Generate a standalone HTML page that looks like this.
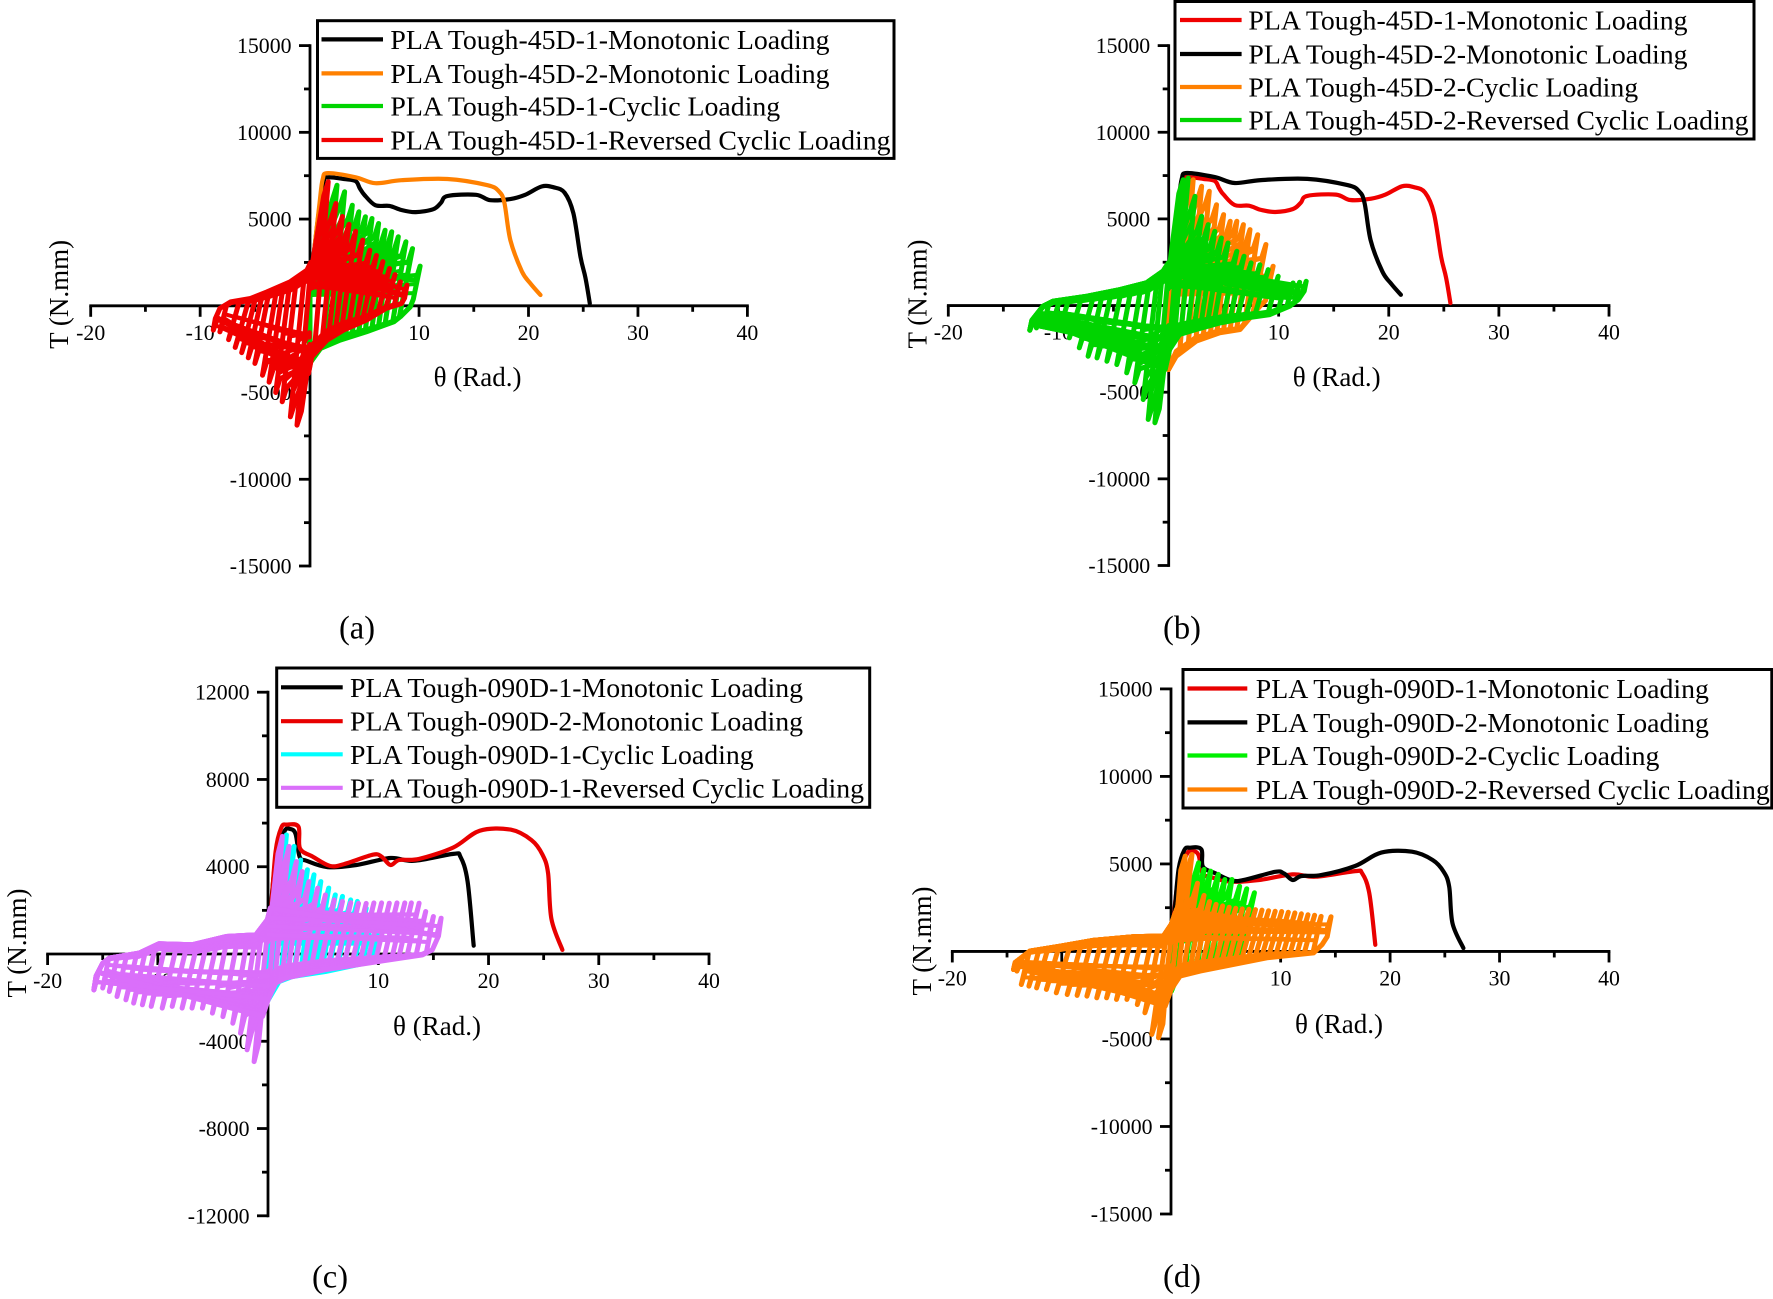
<!DOCTYPE html>
<html lang="en">
<head>
<meta charset="utf-8">
<title>PLA Tough torque-rotation curves</title>
<style>
html,body{margin:0;padding:0;background:#fff;}
body{width:1773px;height:1299px;overflow:hidden;}
svg{display:block;font-family:"Liberation Serif",serif;}
</style>
</head>
<body>
<svg id="figure" xmlns="http://www.w3.org/2000/svg" width="1773" height="1299" viewBox="0 0 1773 1299"></svg>
<script>
/* ---------- tick values ---------- */
const xTickLabels = [-20, -10, 10, 20, 30, 40];
const xMinorTicks = [-15, -5, 5, 15, 25, 35];
const yTickLabels15k = [15000, 10000, 5000, -5000, -10000, -15000];
const yMinorTicks15k = [12500, 7500, 2500, -2500, -7500, -12500];
const yTickLabels12k = [12000, 8000, 4000, -4000, -8000, -12000];
const yMinorTicks12k = [10000, 6000, 2000, -2000, -6000, -10000];

/* ---------- monotonic curves ---------- */
const mono45D1Theta = [0.35,0.9,1.3,1.68,3.15,4.2,4.6,5,6,7.3,8.4,9.7,11.3,12,12.6,15.2,16.5,18.4,19.7,21.2,22.3,23.3,24.1,24.75,25.2,25.6];
const mono45D1Torque = [2800,5700,7200,7410,7310,7190,6760,6400,5800,5760,5520,5400,5570,5930,6330,6400,6090,6165,6400,6880,6830,6520,5330,2820,1625,140];
const mono45D2Theta = [0.35,0.9,1.2,1.68,4.2,6,8.4,12.6,16.25,17.3,17.8,18.35,19.4,20.2,21.1];
const mono45D2Torque = [2800,5900,7300,7650,7410,7070,7240,7310,6950,6600,5930,3775,1980,1270,620];
const mono090D1Theta = [0.2,0.68,1.46,2,2.5,2.86,3.5,5.4,8,11.1,13.2,16.8,17.45,18.1,18.65];
const mono090D1Torque = [1800,4300,5600,5730,5500,4460,4270,3985,4080,4400,4270,4590,4460,3320,380];
const mono090D2Theta = [0.3,0.68,1.2,1.7,2.76,2.9,4.06,5.6,6.9,9.5,10.3,11.1,11.9,13.7,16.8,19.2,22,23.9,24.9,25.4,25.7,26.7];
const mono090D2Torque = [2200,4700,5790,5930,5830,4840,4460,4040,4120,4550,4460,4080,4310,4360,4880,5650,5700,5220,4550,3700,1610,190];

/* ---------- 45D-1 cyclic ---------- */
const cyc45D1PeakTheta = [2.5,3.2,3.9,4.5,5.1,5.7,6.3,6.9,7.5,8.1,8.8,9.4,10.1];
const cyc45D1PeakTorque = [6950,6570,5800,5420,5130,5030,4745,4360,4265,3975,3690,3300,2290];
const cyc45D1StartTheta = [0];
const cyc45D1StartTorque = [-3320];
const cyc45D1UpperTheta = [0,0.2];
const cyc45D1UpperTorque = [1200,2000];
const cyc45D1LowerTheta = [0,1,2.8,5.2,7.7,8.3,9.2,9.8];
const cyc45D1LowerTorque = [-3320,-2460,-1980,-1500,-920,-630,-60,900];

/* ---------- 45D-1 reversed cyclic ---------- */
const rev45D1PeakTheta = [1.7,2.4,3,3.6,4.2,4.85,5.5,6.1,6.7,7.3,7.8,8.3,8.9];
const rev45D1PeakTorque = [7150,5900,5150,4700,4300,3785,3200,2900,2550,2150,1800,1380,1190];
const rev45D1ValleyTheta = [-1.15,-1.75,-2.5,-3.1,-3.7,-4.3,-5,-5.6,-6.2,-6.8,-7.4,-8.2,-8.8];
const rev45D1ValleyTorque = [-6880,-6400,-5530,-5000,-4400,-4000,-3320,-3000,-2700,-2400,-1950,-1500,-1400];
const rev45D1UpperTheta = [-8.8,-8.2,-7.2,-5.4,-3.9,-1.8,-0.25,0.1];
const rev45D1UpperTorque = [-1000,-150,230,420,800,1380,2050,2500];
const rev45D1LowerTheta = [-0.1,0.2,1.6,3.1,5.2,7,8.4,8.9];
const rev45D1LowerTorque = [-3900,-2940,-1980,-1400,-825,-150,130,700];

/* ---------- 45D-2 cyclic ---------- */
const cyc45D2PeakTheta = [2.24,3,3.7,4.36,5,5.6,6.2,6.8,7.4,8.1,8.84,9.5];
const cyc45D2PeakTorque = [7260,6880,6590,5820,5250,4860,4860,4670,4380,4090,3520,2270];
const cyc45D2StartTheta = [0];
const cyc45D2StartTorque = [-3690];
const cyc45D2UpperTheta = [0,0.2];
const cyc45D2UpperTorque = [1200,2000];
const cyc45D2LowerTheta = [0,0.7,2.5,4.66,6.5,7.4,8.3,9.5];
const cyc45D2LowerTorque = [-3690,-2920,-2060,-1575,-1380,-710,-40,730];

/* ---------- 45D-2 reversed cyclic ---------- */
const rev45D2PeakTheta = [1.33,1.79,2.4,3,3.6,4.2,4.8,5.4,6.2,6.85,7.5,8.3,9.05,9.96,10.6,11.3,11.9,12.5];
const rev45D2PeakTorque = [7260,7360,6300,5150,4670,4280,3900,3610,3130,2840,2460,2360,2075,1690,1210,1300,1340,1400];
const rev45D2ValleyTheta = [-1.24,-1.85,-2.3,-3.06,-3.8,-4.7,-5.6,-6.5,-7.3,-8.1,-9,-9.9,-10.6,-11.4,-12,-12.6];
const rev45D2ValleyTorque = [-6760,-6570,-5420,-4460,-3880,-3400,-3210,-3020,-2920,-2440,-1860,-1380,-1190,-1190,-1290,-1420];
const rev45D2UpperTheta = [-12.6,-11.4,-10.5,-7.4,-4.4,-2,-0.5,0];
const rev45D2UpperTorque = [-1000,-40,250,540,920,1310,1980,2460];
const rev45D2LowerTheta = [-0.3,0.1,1,2.5,4.7,7.1,9.2,11,11.8,12.5];
const rev45D2LowerTorque = [-3690,-2540,-1670,-1380,-1000,-710,-520,-40,350,1000];

/* ---------- 090D-1 cyclic ---------- */
const cyc090D1PeakTheta = [1.66,2.36,2.96,3.57,4.17,4.78,5.5,6.1,6.75,7.5,8.1,8.9,9.5,10.2];
const cyc090D1PeakTorque = [5460,4930,4310,3860,3630,3320,3020,2710,2640,2480,2410,2100,1800,1490];
const cyc090D1StartTheta = [0];
const cyc090D1StartTorque = [-2100];
const cyc090D1UpperTheta = [0,0.2];
const cyc090D1UpperTorque = [900,1500];
const cyc090D1LowerTheta = [0,1,2.2,5.2,10.2];
const cyc090D1LowerTorque = [-2100,-1260,-1030,-800,-270];

/* ---------- 090D-1 reversed cyclic ---------- */
const rev090D1PeakTheta = [1.3,1.9,2.57,3.1,3.7,4.5,5.2,6,6.75,7.5,8.2,8.9,9.6,10.3,11,11.7,12.4,13,13.7,14.3,15,15.7];
const rev090D1PeakTorque = [5390,4930,4240,3780,3320,3020,2710,2480,2410,2350,2320,2320,2340,2340,2330,2340,2340,2340,2330,1950,1720,1640];
const rev090D1ValleyTheta = [-1.27,-1.9,-2.5,-3.2,-4.1,-5.05,-5.96,-6.9,-7.8,-8.7,-9.6,-10.6,-11.4,-12.2,-12.9,-13.7,-14.4,-15,-15.8];
const rev090D1ValleyTorque = [-4930,-4390,-3630,-3170,-2870,-2710,-2480,-2480,-2480,-2400,-2480,-2400,-2330,-2250,-2100,-1950,-1720,-1560,-1640];
const rev090D1UpperTheta = [-15.8,-15,-14.4,-11.7,-9.9,-6.9,-3.8,-1.1,-0.06,0.2];
const rev090D1UpperTorque = [-1200,-420,-190,40,470,420,800,880,1570,2100];
const rev090D1LowerTheta = [-0.5,0,0.7,1.6,5.2,10.1,14,14.9,15.7];
const rev090D1LowerTorque = [-2860,-2100,-1330,-1100,-720,-340,-40,190,1100];

/* ---------- 090D-2 cyclic ---------- */
const cyc090D2PeakTheta = [1.74,2.5,3,3.6,4.3,4.9,5.55,6.25,6.9,7.6];
const cyc090D2PeakTorque = [4880,5070,4690,4590,4400,4110,4110,3730,3580,3350];
const cyc090D2StartTheta = [0];
const cyc090D2StartTorque = [-2270];
const cyc090D2UpperTheta = [0,0.2];
const cyc090D2UpperTorque = [900,1500];
const cyc090D2LowerTheta = [0,0.67,2.65,4.8,6.3,7.7];
const cyc090D2LowerTorque = [-2270,-1310,-930,-740,-270,400];

/* ---------- 090D-2 reversed cyclic ---------- */
const rev090D2PeakTheta = [1.28,1.9,2.4,3,3.5,4.1,4.7,5.3,5.9,6.5,7.1,7.7,8.3,8.9,9.5,10.1,10.7,11.3,11.9,12.5,13.1,13.7,14.6];
const rev090D2PeakTorque = [5450,5540,3900,3200,2850,2690,2600,2530,2470,2430,2410,2390,2360,2330,2300,2280,2240,2200,2150,2100,2070,2000,1980];
const rev090D2ValleyTheta = [-1.16,-1.77,-2.4,-3.1,-4.05,-5,-5.9,-6.8,-7.7,-8.6,-9.5,-10.5,-11.4,-12.3,-13,-13.7,-14.1,-14.4];
const rev090D2ValleyTorque = [-4930,-4740,-3500,-3030,-2740,-2740,-2650,-2650,-2550,-2510,-2460,-2360,-2170,-2080,-1980,-1890,-1120,-1030];
const rev090D2UpperTheta = [-14.4,-12.9,-10.15,-7.1,-3.44,-0.7,0,0.5];
const rev090D2UpperTorque = [-700,20,300,630,840,880,1540,2400];
const rev090D2LowerTheta = [-0.55,0,0.8,2.65,5.7,8.75,13,13.8,14.6];
const rev090D2LowerTorque = [-3120,-2170,-1410,-1120,-740,-360,-80,400,1200];

/* ---------- colours and layout ---------- */
const BLACK = '#000000', ORANGE = '#ff8000', GREEN = '#00d400', RED = '#f00000', CYAN = '#00ffff', PURPLE = '#da6ffa', LIME = '#00f000';

const cyc45D1 = {pt:cyc45D1PeakTheta,pv:cyc45D1PeakTorque,nt:cyc45D1StartTheta,nv:cyc45D1StartTorque,ut:cyc45D1UpperTheta,uv:cyc45D1UpperTorque,lt:cyc45D1LowerTheta,lv:cyc45D1LowerTorque};
const rev45D1 = {pt:rev45D1PeakTheta,pv:rev45D1PeakTorque,nt:rev45D1ValleyTheta,nv:rev45D1ValleyTorque,ut:rev45D1UpperTheta,uv:rev45D1UpperTorque,lt:rev45D1LowerTheta,lv:rev45D1LowerTorque};
const cyc45D2 = {pt:cyc45D2PeakTheta,pv:cyc45D2PeakTorque,nt:cyc45D2StartTheta,nv:cyc45D2StartTorque,ut:cyc45D2UpperTheta,uv:cyc45D2UpperTorque,lt:cyc45D2LowerTheta,lv:cyc45D2LowerTorque};
const rev45D2 = {pt:rev45D2PeakTheta,pv:rev45D2PeakTorque,nt:rev45D2ValleyTheta,nv:rev45D2ValleyTorque,ut:rev45D2UpperTheta,uv:rev45D2UpperTorque,lt:rev45D2LowerTheta,lv:rev45D2LowerTorque};
const cyc090D1 = {pt:cyc090D1PeakTheta,pv:cyc090D1PeakTorque,nt:cyc090D1StartTheta,nv:cyc090D1StartTorque,ut:cyc090D1UpperTheta,uv:cyc090D1UpperTorque,lt:cyc090D1LowerTheta,lv:cyc090D1LowerTorque};
const rev090D1 = {pt:rev090D1PeakTheta,pv:rev090D1PeakTorque,nt:rev090D1ValleyTheta,nv:rev090D1ValleyTorque,ut:rev090D1UpperTheta,uv:rev090D1UpperTorque,lt:rev090D1LowerTheta,lv:rev090D1LowerTorque};
const cyc090D2 = {pt:cyc090D2PeakTheta,pv:cyc090D2PeakTorque,nt:cyc090D2StartTheta,nv:cyc090D2StartTorque,ut:cyc090D2UpperTheta,uv:cyc090D2UpperTorque,lt:cyc090D2LowerTheta,lv:cyc090D2LowerTorque};
const rev090D2 = {pt:rev090D2PeakTheta,pv:rev090D2PeakTorque,nt:rev090D2ValleyTheta,nv:rev090D2ValleyTorque,ut:rev090D2UpperTheta,uv:rev090D2UpperTorque,lt:rev090D2LowerTheta,lv:rev090D2LowerTorque};

const panels = [
 {id:'a',x0:90.7,x1:747.4,yTop:45.6,yBot:566,yMax:15000,yAxisX:310,ticks:yTickLabels15k,minor:yMinorTicks15k,
  caption:[357,638.5],thetaLabel:[477.6,386],torqueLabel:[68,294.4],
  legend:{x:317.5,y:20.7,w:576.5,h:137.7,rows:[39.4,73.4,106,140],lx:[321.5,383],tx:390.4},
  entries:[
   {name:'PLA Tough-45D-1-Monotonic Loading',color:BLACK,t:mono45D1Theta,v:mono45D1Torque},
   {name:'PLA Tough-45D-2-Monotonic Loading',color:ORANGE,t:mono45D2Theta,v:mono45D2Torque},
   {name:'PLA Tough-45D-1-Cyclic Loading',color:GREEN,loops:cyc45D1},
   {name:'PLA Tough-45D-1-Reversed Cyclic Loading',color:RED,loops:rev45D1}]},
 {id:'b',x0:948.3,x1:1609,yTop:45.6,yBot:565.5,yMax:15000,yAxisX:1168.7,ticks:yTickLabels15k,minor:yMinorTicks15k,
  caption:[1182,638.5],thetaLabel:[1336.7,386],torqueLabel:[926.7,294],
  legend:{x:1175,y:1.5,w:579,h:137.5,rows:[20,54,87,120],lx:[1180,1241.6],tx:1248.4},
  entries:[
   {name:'PLA Tough-45D-1-Monotonic Loading',color:RED,t:mono45D1Theta,v:mono45D1Torque},
   {name:'PLA Tough-45D-2-Monotonic Loading',color:BLACK,t:mono45D2Theta,v:mono45D2Torque},
   {name:'PLA Tough-45D-2-Cyclic Loading',color:ORANGE,loops:cyc45D2},
   {name:'PLA Tough-45D-2-Reversed Cyclic Loading',color:GREEN,loops:rev45D2}]},
 {id:'c',x0:47.6,x1:709,yTop:692.2,yBot:1215.8,yMax:12000,yAxisX:268,ticks:yTickLabels12k,minor:yMinorTicks12k,
  caption:[330,1287.4],thetaLabel:[437,1035],torqueLabel:[25.8,943],
  legend:{x:276.7,y:668,w:593,h:139.3,rows:[687.3,721.2,754.3,787.8],lx:[281,342.7],tx:350},
  entries:[
   {name:'PLA Tough-090D-1-Monotonic Loading',color:BLACK,t:mono090D1Theta,v:mono090D1Torque},
   {name:'PLA Tough-090D-2-Monotonic Loading',color:'#e80000',t:mono090D2Theta,v:mono090D2Torque},
   {name:'PLA Tough-090D-1-Cyclic Loading',color:CYAN,loops:cyc090D1},
   {name:'PLA Tough-090D-1-Reversed Cyclic Loading',color:PURPLE,loops:rev090D1}]},
 {id:'d',x0:952.3,x1:1609,yTop:688.9,yBot:1214,yMax:15000,yAxisX:1171,ticks:yTickLabels15k,minor:yMinorTicks15k,
  caption:[1182,1287],thetaLabel:[1339,1033],torqueLabel:[931,941],
  legend:{x:1183,y:669.5,w:588.8,h:138.5,rows:[688.5,722.4,755.5,789.5],lx:[1187.5,1247.3],tx:1255.8},
  entries:[
   {name:'PLA Tough-090D-1-Monotonic Loading',color:'#e80000',t:mono090D1Theta,v:mono090D1Torque},
   {name:'PLA Tough-090D-2-Monotonic Loading',color:BLACK,t:mono090D2Theta,v:mono090D2Torque},
   {name:'PLA Tough-090D-2-Cyclic Loading',color:LIME,loops:cyc090D2},
   {name:'PLA Tough-090D-2-Reversed Cyclic Loading',color:ORANGE,loops:rev090D2}]}
];

/* ---------- drawing helpers ---------- */
const NS = 'http://www.w3.org/2000/svg';
const figure = document.getElementById('figure');

function make(tag, parent, name, attrs) {
  const el = document.createElementNS(NS, tag);
  
  
  for (const k in attrs) el.setAttribute(k, attrs[k]);
  parent.appendChild(el);
  return el;
}
function label(parent, name, str, x, y, size, anchor, extra) {
  const el = make('text', parent, name, Object.assign({x:x,y:y,'font-size':size,'text-anchor':anchor,fill:'#000'}, extra||{}));
  el.textContent = str;
  return el;
}
function edgeAt(theta, ts, vs) {
  if (theta <= ts[0]) return vs[0];
  for (let i = 1; i < ts.length; i++) {
    if (theta <= ts[i]) return vs[i-1] + (vs[i]-vs[i-1])*(theta-ts[i-1])/(ts[i]-ts[i-1]);
  }
  return vs[vs.length-1];
}
const INNER_LEVELS = [0.78, 0.55, 0.32];

/* One hysteresis cycle: the outer loop through peak and valley, plus inner reload branches
   that fan out from the origin region onto the steep branches at lower torque levels */
function loopPaths(s, i) {
  const px = s.pt[i], pv = s.pv[i];
  const reversed = s.nt.length > 1;
  const k = reversed ? Math.min(i, s.nt.length-1) : 0;
  const nx = s.nt[k], nv = s.nv[k];
  const bandUp = reversed ? 650 * (1 - k/(s.nt.length-1)) : 0;
  const bandLow = (reversed ? 650 : 280) * (1 - i/(s.pt.length-1));
  const hookPx = px - 0.4;
  const hookPv = pv - Math.min(800, 0.5*pv);
  const hookNx = nx + 0.4;
  const hookNv = nv + Math.min(800, 0.5*Math.abs(nv));

  const outer = [[nx, nv]];
  const riseU = reversed ? Math.min(1.2, 0.00045*(edgeAt(nx, s.ut, s.uv) - nv)) : 0.05;
  const upStart = nx + riseU;
  const upV = edgeAt(upStart, s.ut, s.uv) - bandUp;
  outer.push([upStart, upV]);
  s.ut.forEach(function (t, j) { if (t > upStart && t < hookPx) outer.push([t, s.uv[j] - bandUp]); });
  outer.push([hookPx, hookPv]);
  outer.push([px, pv]);

  const riseL = Math.min(1.2, 0.00045*(pv - edgeAt(px, s.lt, s.lv)));
  const downStart = px - riseL;
  const downV = edgeAt(downStart, s.lt, s.lv) + bandLow;
  outer.push([downStart, downV]);
  for (let j = s.lt.length-1; j >= 0; j--) {
    if (s.lt[j] < downStart && s.lt[j] > (reversed ? hookNx : nx)) outer.push([s.lt[j], s.lv[j] + bandLow]);
  }
  if (reversed) outer.push([hookNx, hookNv]);
  outer.push([nx, nv]);

  const inner = [];
  const originUp = edgeAt(0, s.ut, s.uv) - bandUp;
  const originLow = edgeAt(0, s.lt, s.lv) + bandLow;
  INNER_LEVELS.forEach(function (lvl) {
    const tipV = pv * lvl;
    if (tipV > downV) {
      const frac = (pv - tipV) / (pv - downV);
      inner.push([[0, originUp * Math.min(1, lvl + 0.2)], [px - riseL*frac, tipV]]);
    }
    if (reversed) {
      const valV = nv * lvl;
      if (valV < upV) {
        const fracN = (valV - nv) / (upV - nv);
        inner.push([[0, originLow * Math.min(1, lvl + 0.2)], [nx + riseU*fracN, valV]]);
      }
    }
  });
  return {outer: outer, inner: inner};
}
function smoothPath(xy) {
  let d = 'M' + xy[0][0].toFixed(1) + ' ' + xy[0][1].toFixed(1);
  for (let i = 0; i < xy.length-1; i++) {
    const a = xy[Math.max(i-1,0)], b = xy[i], c = xy[i+1], e = xy[Math.min(i+2,xy.length-1)];
    d += 'C' + (b[0]+(c[0]-a[0])/6).toFixed(1) + ' ' + (b[1]+(c[1]-a[1])/6).toFixed(1) + ' ' +
         (c[0]-(e[0]-b[0])/6).toFixed(1) + ' ' + (c[1]-(e[1]-b[1])/6).toFixed(1) + ' ' +
         c[0].toFixed(1) + ' ' + c[1].toFixed(1);
  }
  return d;
}

/* ---------- panels ---------- */
panels.forEach(function (p) {
  const sx = function (t) { return p.x0 + (t + 20) * (p.x1 - p.x0) / 60; };
  const sy = function (v) { return p.yTop + (p.yMax - v) * (p.yBot - p.yTop) / (2 * p.yMax); };
  const toPath = function (pts) {
    return pts.map(function (q, i) { return (i ? 'L' : 'M') + sx(q[0]).toFixed(1) + ' ' + sy(q[1]).toFixed(1); }).join('');
  };

  const g = make('g', figure, 'panel-' + p.id, {});
  const axes = make('g', g, 'axes-' + p.id, {stroke:'#000',fill:'none','stroke-width':2.8});
  const y0 = sy(0);

  make('line', axes, 'x-axis-' + p.id, {x1:p.x0-1.4,x2:p.x1+1.4,y1:y0,y2:y0});
  make('line', axes, 'y-axis-' + p.id, {x1:p.yAxisX,x2:p.yAxisX,y1:p.yTop-1.4,y2:p.yBot+1.4});

  xTickLabels.forEach(function (t) {
    make('line', axes, 'x-tick-' + t, {x1:sx(t),x2:sx(t),y1:y0,y2:y0+11});
    label(g, 'x-tick-label-' + t, String(t), sx(t), y0+34, 21.8, 'middle');
  });
  xMinorTicks.forEach(function (t) {
    make('line', axes, 'x-minor-tick-' + t, {x1:sx(t),x2:sx(t),y1:y0,y2:y0+6});
  });
  p.ticks.forEach(function (v) {
    make('line', axes, 'y-tick-' + v, {x1:p.yAxisX-11,x2:p.yAxisX,y1:sy(v),y2:sy(v)});
    label(g, 'y-tick-label-' + v, String(v), p.yAxisX-18.5, sy(v)+7.5, 21.8, 'end');
  });
  p.minor.forEach(function (v) {
    make('line', axes, 'y-minor-tick-' + v, {x1:p.yAxisX-6,x2:p.yAxisX,y1:sy(v),y2:sy(v)});
  });

  label(g, 'x-axis-title-' + p.id, 'θ (Rad.)', p.thetaLabel[0], p.thetaLabel[1], 27, 'middle');
  label(g, 'y-axis-title-' + p.id, 'T (N.mm)', p.torqueLabel[0], p.torqueLabel[1], 27, 'middle',
        {transform:'rotate(-90 ' + p.torqueLabel[0] + ' ' + p.torqueLabel[1] + ')'});
  label(g, 'caption-' + p.id, '(' + p.id + ')', p.caption[0], p.caption[1], 32.5, 'middle');

  p.entries.forEach(function (e, idx) {
    const sg = make('g', g, 'series-' + p.id + '-' + (idx+1), {fill:'none',stroke:e.color,'stroke-linejoin':'round','stroke-linecap':'round'});
    if (e.loops) {
      e.loops.pt.forEach(function (_, i) {
        const paths = loopPaths(e.loops, i);
        make('path', sg, 'hysteresis-loop-' + (i+1), {d:toPath(paths.outer),'stroke-width':5});
        paths.inner.forEach(function (seg) {
          make('path', sg, 'reload-branch-' + (i+1), {d:toPath(seg),'stroke-width':4});
        });
      });
    } else {
      const xy = e.t.map(function (t, i) { return [sx(t), sy(e.v[i])]; });
      make('path', sg, 'monotonic-curve', {d:smoothPath(xy),'stroke-width':4.2});
    }
  });

  const lg = make('g', g, 'legend-' + p.id, {});
  make('rect', lg, 'legend-box-' + p.id, {x:p.legend.x,y:p.legend.y,width:p.legend.w,height:p.legend.h,fill:'#fff',stroke:'#000','stroke-width':3});
  p.entries.forEach(function (e, idx) {
    const ry = p.legend.rows[idx];
    make('line', lg, 'legend-swatch-' + (idx+1), {x1:p.legend.lx[0],x2:p.legend.lx[1],y1:ry,y2:ry,stroke:e.color,'stroke-width':4.2});
    label(lg, 'legend-entry-' + (idx+1), e.name, p.legend.tx, ry+9.5, 27.8, 'start');
  });
});
</script>
</body>
</html>
